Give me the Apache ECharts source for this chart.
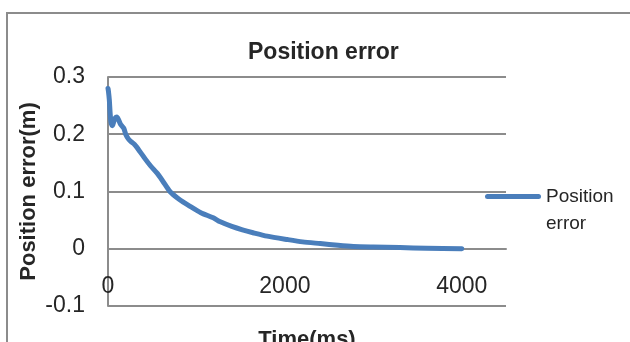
<!DOCTYPE html>
<html>
<head>
<meta charset="utf-8">
<script src="https://cdn.jsdelivr.net/npm/echarts@6/dist/echarts.min.js"></script>
<style>
  html, body { margin: 0; padding: 0; background: #fff; }
  #chart { width: 630px; height: 342px; }
</style>
</head>
<body>
<div id="chart"></div>
<script>
// Sampled position error over time
const timeMs = [0, 5, 15, 25, 35, 50, 65, 80, 100, 120, 140, 160, 180, 200, 230, 260, 300,
  360, 420, 480, 555, 620, 700, 800, 930, 1050, 1190, 1270, 1400, 1520, 1640, 1800,
  2030, 2200, 2400, 2600, 2775, 3000, 3300, 3600, 4000];
const errorM = [0.28, 0.275, 0.26, 0.235, 0.22, 0.215, 0.222, 0.228, 0.23, 0.225, 0.218, 0.214,
  0.21, 0.2, 0.192, 0.187, 0.182, 0.17, 0.157, 0.145, 0.132, 0.118, 0.1, 0.087, 0.074,
  0.063, 0.054, 0.047, 0.039, 0.033, 0.028, 0.022, 0.016, 0.012, 0.009, 0.006, 0.004,
  0.003, 0.002, 0.001, 0.0];

const seriesName = 'Position error';
const chartTitle = 'Position error';
const xAxisTitle = 'Time(ms)';
const yAxisTitle = 'Position error(m)';

const FONT = '"Liberation Sans", Arial, sans-serif';
const TEXT = '#262626';
const GRID = '#8c8c8c';
const LINE = '#4A7EBB';

// Plot box geometry (px) and the value axis range
const PLOT = { left: 108, top: 77, width: 398, height: 229 };
const Y_MIN = -0.1, Y_MAX = 0.3;
// Time axis sits on the y = 0 line: shift it up from the bottom edge
const xAxisShift = -PLOT.height * (0 - Y_MIN) / (Y_MAX - Y_MIN);

// Legend key: a rounded bar in the upper part of a tall box, so that it
// sits level with the first line of the two-line legend text.
const legendKey = 'path://M0,0M2.5,11h51a2.5,2.5 0 0 1 0,5h-51a2.5,2.5 0 0 1 0,-5zM56,54';

const chart = echarts.init(document.getElementById('chart'), null, { renderer: 'canvas' });

chart.setOption({
  animation: false,
  backgroundColor: '#fff',
  textStyle: { fontFamily: FONT },
  graphic: [{
    type: 'rect',
    shape: { x: 7, y: 13, width: 700, height: 400 },
    style: { fill: 'none', stroke: '#8c8c8c', lineWidth: 2 },
    silent: true
  }],
  title: {
    text: chartTitle,
    left: 243,
    top: 36,
    textStyle: { fontFamily: FONT, fontSize: 23, fontWeight: 'bold', color: TEXT }
  },
  legend: {
    left: 480,
    top: 178,
    itemWidth: 56,
    itemHeight: 54,
    icon: legendKey,
    formatter: name => name.replace(' ', '\n'),
    textStyle: { fontFamily: FONT, fontSize: 19, color: TEXT, lineHeight: 27 },
    data: [seriesName]
  },
  grid: Object.assign({ outerBoundsMode: 'none', containLabel: false }, PLOT),
  xAxis: {
    type: 'value',
    min: 0,
    max: 4500,
    interval: 2000,
    position: 'bottom',
    offset: xAxisShift,
    name: xAxisTitle,
    nameLocation: 'middle',
    nameGap: 80,
    nameMoveOverlap: false,
    nameTextStyle: { fontFamily: FONT, fontSize: 22, fontWeight: 'bold', color: TEXT },
    axisLine: { show: true, onZero: false, lineStyle: { color: GRID, width: 2 } },
    axisTick: { show: false },
    splitLine: { show: false },
    axisLabel: {
      showMaxLabel: false,
      margin: 26,
      fontFamily: FONT, fontSize: 23, color: TEXT,
      formatter: v => String(v)
    }
  },
  yAxis: {
    type: 'value',
    min: Y_MIN,
    max: Y_MAX,
    interval: 0.1,
    name: yAxisTitle,
    nameLocation: 'middle',
    nameGap: 68,
    nameMoveOverlap: false,
    nameTextStyle: { fontFamily: FONT, fontSize: 22, fontWeight: 'bold', color: TEXT },
    axisLine: { show: true, onZero: false, lineStyle: { color: GRID, width: 2 } },
    axisTick: { show: false },
    splitLine: { show: true, lineStyle: { color: GRID, width: 2 } },
    axisLabel: {
      margin: 23,
      fontFamily: FONT, fontSize: 23, color: TEXT,
      formatter: v => String(Math.round(v * 10) / 10)
    }
  },
  series: [{
    name: seriesName,
    type: 'line',
    data: timeMs.map((t, i) => [t, errorM[i]]),
    showSymbol: false,
    smooth: 0.25,
    color: LINE,
    lineStyle: { width: 5, color: LINE, cap: 'round', join: 'round' }
  }]
});
</script>
</body>
</html>
